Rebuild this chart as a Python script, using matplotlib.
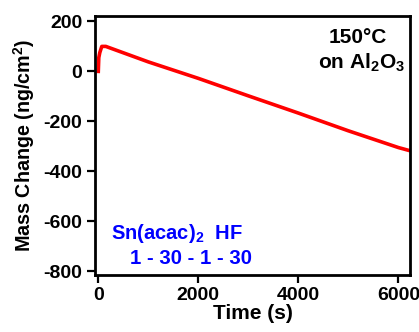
import matplotlib
matplotlib.use("Agg")
import matplotlib.pyplot as plt

# values
time_s = [0, 10, 30, 70, 150, 1000, 2000, 3000, 4000, 5000, 6000, 6200]
mass_change = [0, 55, 75, 100, 100, 38, -28, -98, -167, -238, -305, -316]

x_ticks = [0, 2000, 4000, 6000]
y_ticks = [200, 0, -200, -400, -600, -800]

plt.rcParams['font.family'] = ['Liberation Sans', 'DejaVu Sans']
plt.rcParams['font.weight'] = 'bold'
plt.rcParams['axes.unicode_minus'] = False
plt.rcParams['mathtext.fontset'] = 'custom'
plt.rcParams['mathtext.rm'] = 'Liberation Sans:bold'
plt.rcParams['mathtext.it'] = 'Liberation Sans:bold'
plt.rcParams['mathtext.bf'] = 'Liberation Sans:bold'

fig = plt.figure(figsize=(4.19, 3.32), dpi=100)
ax = fig.add_axes([0.2267, 0.172, 0.752, 0.78])

ax.plot(time_s, mass_change, color='red', lw=2.6)

ax.set_xlim(-66, 6234)
ax.set_ylim(-815, 222)
ax.set_xticks(x_ticks)
ax.set_yticks(y_ticks)
ax.tick_params(direction='out', length=6, width=1.6, labelsize=14, pad=3)
for s in ax.spines.values():
    s.set_linewidth(2)

ax.set_xlabel('Time (s)', fontsize=15, fontweight='bold', labelpad=0)
ax.set_ylabel('Mass Change (ng/cm$^2$)', fontsize=14.2, fontweight='bold', labelpad=5)

ax.text(0.835, 0.915, '150°C', transform=ax.transAxes, ha='center', va='center',
        fontsize=15, fontweight='bold')
ax.text(0.845, 0.82, 'on Al$_2$O$_3$', transform=ax.transAxes, ha='center', va='center',
        fontsize=15, fontweight='bold')
ax.text(0.05, 0.16, 'Sn(acac)$_2$  HF', transform=ax.transAxes, ha='left', va='center',
        fontsize=14.5, fontweight='bold', color='blue')
ax.text(0.11, 0.065, '1 - 30 - 1 - 30', transform=ax.transAxes, ha='left', va='center',
        fontsize=14.7, fontweight='bold', color='blue')

fig.savefig('out.png', dpi=100)
